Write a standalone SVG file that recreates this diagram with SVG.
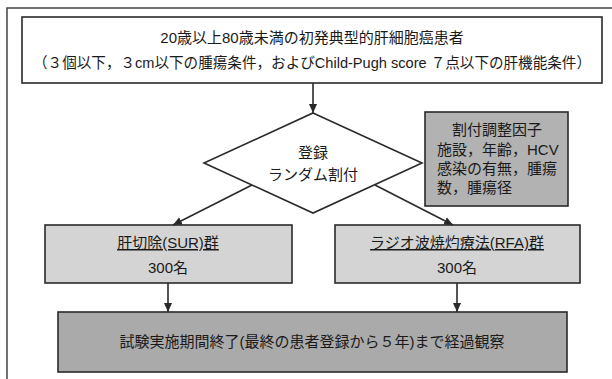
<svg xmlns="http://www.w3.org/2000/svg" width="612" height="379" viewBox="0 0 612 379">
<defs>
<style>
text{font-family:"Liberation Sans","Noto Sans CJK JP",sans-serif;font-size:15px;fill:#1a1a1a;}
.c{text-anchor:middle;}
.box{stroke:#2a2a2a;stroke-width:1.6;}
.conn{stroke:#2a2a2a;stroke-width:1.6;fill:none;marker-end:url(#ah);}
</style>
<marker id="ah" viewBox="0 0 10 10" refX="10" refY="5" markerWidth="9" markerHeight="9" markerUnits="userSpaceOnUse" orient="auto"><path d="M0,0.5 L10,5 L0,9.5 z" fill="#2a2a2a"/></marker>
</defs>
<rect width="612" height="379" fill="#fff"/>
<path d="M7,379 L7,8 L612,8" fill="none" stroke="#444" stroke-width="1.5"/>
<g id="eligibility">
<rect class="box" x="22" y="17" width="580" height="66" fill="#fff"/>
<text class="c" x="312" y="43">20歳以上80歳未満の初発典型的肝細胞癌患者</text>
<text class="c" x="312" y="68" textLength="558" lengthAdjust="spacingAndGlyphs">（３個以下，３cm以下の腫瘍条件，およびChild-Pugh score ７点以下の肝機能条件）</text>
</g>
<g id="randomization">
<polygon class="box" points="313,113 422,163 313,213 204,163" fill="#fff"/>
<text class="c" x="313" y="158">登録</text>
<text class="c" x="313" y="180">ランダム割付</text>
</g>
<g id="factors">
<rect class="box" x="425" y="112" width="143" height="94" fill="#b2b2b2"/>
<text class="c" x="497" y="135">割付調整因子</text>
<text x="437" y="155">施設，年齢，HCV</text>
<text x="437" y="174">感染の有無，腫瘍</text>
<text x="437" y="193">数，腫瘍径</text>
</g>
<g id="sur">
<rect class="box" x="45" y="225" width="247" height="58" fill="#d4d4d4"/>
<text class="c" x="168" y="248" text-decoration="underline">肝切除(SUR)群</text>
<text class="c" x="168" y="273">300名</text>
</g>
<g id="rfa">
<rect class="box" x="335" y="225" width="245" height="58" fill="#d4d4d4"/>
<text class="c" x="457" y="248" text-decoration="underline">ラジオ波焼灼療法(RFA)群</text>
<text class="c" x="457" y="273">300名</text>
</g>
<g id="followup">
<rect class="box" x="58" y="312" width="509" height="60" fill="#aaaaaa"/>
<text class="c" x="312" y="347">試験実施期間終了(最終の患者登録から５年)まで経過観察</text>
</g>
<g id="connectors">
<line class="conn" x1="313" y1="83" x2="313" y2="113"/>
<line class="conn" x1="252" y1="185" x2="173" y2="225"/>
<line class="conn" x1="375" y1="185" x2="453" y2="225"/>
<line class="conn" x1="168" y1="283" x2="168" y2="312"/>
<line class="conn" x1="457" y1="283" x2="457" y2="312"/>
</g>
</svg>
